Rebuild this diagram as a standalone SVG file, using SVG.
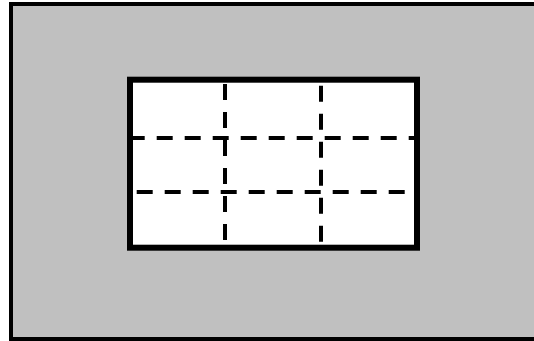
<svg xmlns="http://www.w3.org/2000/svg" width="534" height="341" viewBox="0 0 534 341">
  <style>
    .outer { fill: #c0c0c0; stroke: #000; stroke-width: 4; }
    .inner { fill: #fff; stroke: #000; stroke-width: 6; }
    .grid { stroke: #000; stroke-width: 4; stroke-dasharray: 16 12; fill: none; }
  </style>
  <g id="outer">
    <rect class="outer" x="11" y="4" width="530" height="335"/>
  </g>
  <g id="inner">
    <rect class="inner" x="130" y="79.7" width="287" height="168"/>
  </g>
  <g id="grid">
    <line class="grid" x1="128.7" y1="138" x2="417" y2="138"/>
    <line class="grid" x1="136.7" y1="192" x2="414" y2="192"/>
    <line class="grid" x1="225" y1="84" x2="225" y2="247"/>
    <line class="grid" x1="321" y1="85.7" x2="321" y2="247"/>
  </g>
</svg>
